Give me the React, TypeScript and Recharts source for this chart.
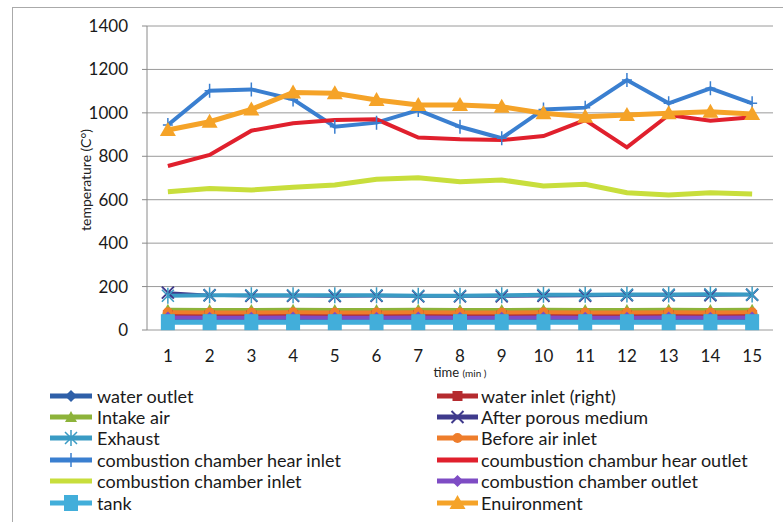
import React from "react";
import {
  LineChart,
  Line,
  XAxis,
  YAxis,
  CartesianGrid,
} from "recharts";

// Time axis (minutes)
const time = [1, 2, 3, 4, 5, 6, 7, 8, 9, 10, 11, 12, 13, 14, 15];
const yTicks = [0, 200, 400, 600, 800, 1000, 1200, 1400];
const bandTicks = [0.5, 1.5, 2.5, 3.5, 4.5, 5.5, 6.5, 7.5, 8.5, 9.5, 10.5, 11.5, 12.5, 13.5, 14.5, 15.5];

// Temperatures (°C) per measuring point
const waterOutlet = [42, 41, 41, 42, 41, 41, 42, 41, 41, 42, 41, 41, 42, 41, 42];
const waterInlet = [68, 67, 67, 68, 67, 67, 68, 67, 67, 68, 67, 67, 68, 67, 68];
const intakeAir = [93, 92, 92, 93, 92, 92, 93, 92, 92, 93, 92, 92, 93, 92, 93];
const afterPorous = [172, 160, 157, 157, 156, 157, 155, 155, 155, 157, 158, 160, 160, 160, 162];
const exhaust = [158, 160, 160, 160, 160, 160, 158, 158, 160, 162, 162, 163, 163, 165, 163];
const beforeAirInlet = [82, 81, 81, 82, 81, 81, 82, 81, 81, 82, 81, 81, 82, 81, 82];
const hearInlet = [944, 1102, 1108, 1062, 936, 955, 1013, 936, 883, 1016, 1024, 1151, 1044, 1113, 1044];
const hearOutlet = [755, 806, 918, 952, 967, 970, 886, 878, 875, 893, 967, 841, 990, 964, 980];
const chamberInlet = [637, 652, 645, 657, 668, 694, 701, 683, 691, 663, 671, 632, 622, 632, 626];
const chamberOutlet = [57, 56, 56, 57, 56, 56, 57, 56, 56, 57, 56, 56, 57, 56, 57];
const tank = [36, 36, 36, 36, 36, 36, 36, 36, 36, 36, 36, 36, 36, 36, 36];
const environment = [921, 959, 1016, 1094, 1090, 1059, 1036, 1036, 1028, 998, 982, 990, 998, 1005, 995];

type Shape = "diamond" | "square" | "triangle" | "x" | "star" | "circle" | "plus" | "none" | "bigsquare" | "bigtriangle";

const series: { key: string; name: string; color: string; shape: Shape; values: number[]; width: number }[] = [
  { key: "waterOutlet", name: "water outlet", color: "#2E5FA8", shape: "diamond", values: waterOutlet, width: 4 },
  { key: "waterInlet", name: "water inlet (right)", color: "#B52B2F", shape: "square", values: waterInlet, width: 4 },
  { key: "intakeAir", name: "Intake air", color: "#8DB33A", shape: "triangle", values: intakeAir, width: 4 },
  { key: "afterPorous", name: "After porous medium", color: "#3F3A8C", shape: "x", values: afterPorous, width: 3 },
  { key: "exhaust", name: "Exhaust", color: "#3A9BC4", shape: "star", values: exhaust, width: 4 },
  { key: "beforeAirInlet", name: "Before air inlet", color: "#EE7D2B", shape: "circle", values: beforeAirInlet, width: 4 },
  { key: "hearInlet", name: "combustion chamber hear inlet", color: "#3A7FD0", shape: "plus", values: hearInlet, width: 4 },
  { key: "hearOutlet", name: "coumbustion chambur hear outlet", color: "#E0202D", shape: "none", values: hearOutlet, width: 4 },
  { key: "chamberInlet", name: "combustion chamber inlet", color: "#C8DE3C", shape: "none", values: chamberInlet, width: 5 },
  { key: "chamberOutlet", name: "combustion chamber outlet", color: "#7E4CC4", shape: "diamond", values: chamberOutlet, width: 4 },
  { key: "tank", name: "tank", color: "#42AEDA", shape: "bigsquare", values: tank, width: 5 },
  { key: "environment", name: "Enuironment", color: "#F5A328", shape: "bigtriangle", values: environment, width: 5 },
];

const rows = time.map((t, i) => {
  const row: Record<string, number> = { t };
  series.forEach((s) => {
    row[s.key] = s.values[i];
  });
  return row;
});

const FONT = "Lato, 'Open Sans', sans-serif";

function Marker({ shape, color, cx, cy }: { shape: Shape; color: string; cx: number; cy: number }) {
  switch (shape) {
    case "diamond":
      return <path d={`M${cx},${cy - 6}L${cx + 6},${cy}L${cx},${cy + 6}L${cx - 6},${cy}Z`} fill={color} />;
    case "square":
      return <rect x={cx - 5} y={cy - 5} width={10} height={10} fill={color} />;
    case "bigsquare":
      return <rect x={cx - 7} y={cy - 8} width={14} height={16} fill={color} />;
    case "triangle":
      return <path d={`M${cx},${cy - 6}L${cx + 6},${cy + 5}L${cx - 6},${cy + 5}Z`} fill={color} />;
    case "bigtriangle":
      return <path d={`M${cx},${cy - 8}L${cx + 8},${cy + 6}L${cx - 8},${cy + 6}Z`} fill={color} />;
    case "circle":
      return <circle cx={cx} cy={cy} r={5} fill={color} />;
    case "x":
      return (
        <path d={`M${cx - 6},${cy - 6}L${cx + 6},${cy + 6}M${cx - 6},${cy + 6}L${cx + 6},${cy - 6}`} stroke={color} strokeWidth={2} />
      );
    case "star":
      return (
        <path
          d={`M${cx - 6},${cy - 6}L${cx + 6},${cy + 6}M${cx - 6},${cy + 6}L${cx + 6},${cy - 6}M${cx},${cy - 8}L${cx},${cy + 8}`}
          stroke={color}
          strokeWidth={1.5}
        />
      );
    case "plus":
      return <path d={`M${cx},${cy - 7}L${cx},${cy + 7}M${cx - 5},${cy}L${cx + 5},${cy}`} stroke={color} strokeWidth={1.5} />;
    default:
      return null;
  }
}

function makeDot(shape: Shape, color: string, key: string) {
  if (shape === "none") return false;
  return (props: any) => {
    const { cx, cy, index } = props;
    return (
      <g key={`${key}-${index}`}>
        <Marker shape={shape} color={color} cx={cx} cy={cy} />
      </g>
    );
  };
}

function YLabel(props: any) {
  const vb = props.viewBox || {};
  const x = (vb.x ?? 0) + 85;
  const y = 180;
  return (
    <text x={x} y={y} transform={`rotate(-90, ${x}, ${y})`} textAnchor="middle" dominantBaseline="central" fontFamily={FONT} fontSize={14} fill="#222">
      temperature (C°)
    </text>
  );
}

function XLabel(props: any) {
  const vb = props.viewBox || {};
  const x = (vb.x ?? 0) + (vb.width ?? 0) / 2;
  return (
    <text x={x} y={377} textAnchor="middle" fontFamily={FONT} fontSize={13} fill="#222">
      time <tspan fontSize={10}>(min )</tspan>
    </text>
  );
}

function LegendBlock() {
  const rowY = [13, 34, 55, 77, 98, 120];
  const cols = [
    { x1: 50, x2: 92, tx: 97 },
    { x1: 437, x2: 478, tx: 481 },
  ];
  return (
    <svg width={783} height={139} style={{ position: "absolute", left: 0, top: 383 }}>
      {series.map((s, i) => {
        const c = cols[i % 2];
        const y = rowY[Math.floor(i / 2)];
        const mid = (c.x1 + c.x2) / 2;
        return (
          <g key={s.key}>
            <line x1={c.x1} x2={c.x2} y1={y} y2={y} stroke={s.color} strokeWidth={5} />
            <Marker shape={s.shape} color={s.color} cx={mid} cy={y} />
            <text x={c.tx} y={y} dominantBaseline="central" fontFamily={FONT} fontSize={18} fill="#1a1a1a">
              {s.name}
            </text>
          </g>
        );
      })}
    </svg>
  );
}

export default function App() {
  return (
    <div style={{ position: "fixed", left: 0, top: 0, width: 783, height: 522, background: "#fff", overflow: "hidden" }}>
      <div style={{ position: "absolute", left: 12, top: 7, width: 800, height: 540, border: "1px solid #aaa" }} />
      <div style={{ position: "absolute", left: 0, top: 0 }}>
        <LineChart width={783} height={390} data={rows} margin={{ top: 26, right: 10, bottom: 5, left: 0 }}>
          <CartesianGrid vertical={false} stroke="#9a9a9a" strokeWidth={1} />
          <XAxis
            xAxisId="bands"
            type="number"
            dataKey="t"
            domain={[0.5, 15.5]}
            ticks={bandTicks}
            tick={false}
            tickSize={6}
            height={0}
            stroke="#8a8a8a"
            interval={0}
          />
          <XAxis
            xAxisId="main"
            type="number"
            dataKey="t"
            domain={[0.5, 15.5]}
            ticks={time}
            interval={0}
            axisLine={false}
            tickLine={false}
            height={55}
            tickMargin={14}
            tick={{ fontFamily: FONT, fontSize: 17, fill: "#1a1a1a" }}
            label={<XLabel />}
          />
          <YAxis
            type="number"
            domain={[0, 1400]}
            ticks={yTicks}
            interval={0}
            width={147}
            tickSize={5}
            tickMargin={14}
            stroke="#8a8a8a"
            tick={{ fontFamily: FONT, fontSize: 17, fill: "#1a1a1a" }}
            label={<YLabel />}
          />
          {series.map((s) => (
            <Line
              key={s.key}
              xAxisId="main"
              dataKey={s.key}
              name={s.name}
              stroke={s.color}
              strokeWidth={s.width}
              dot={makeDot(s.shape, s.color, s.key)}
              activeDot={false}
              isAnimationActive={false}
              type="linear"
            />
          ))}
        </LineChart>
      </div>
      <LegendBlock />
    </div>
  );
}
